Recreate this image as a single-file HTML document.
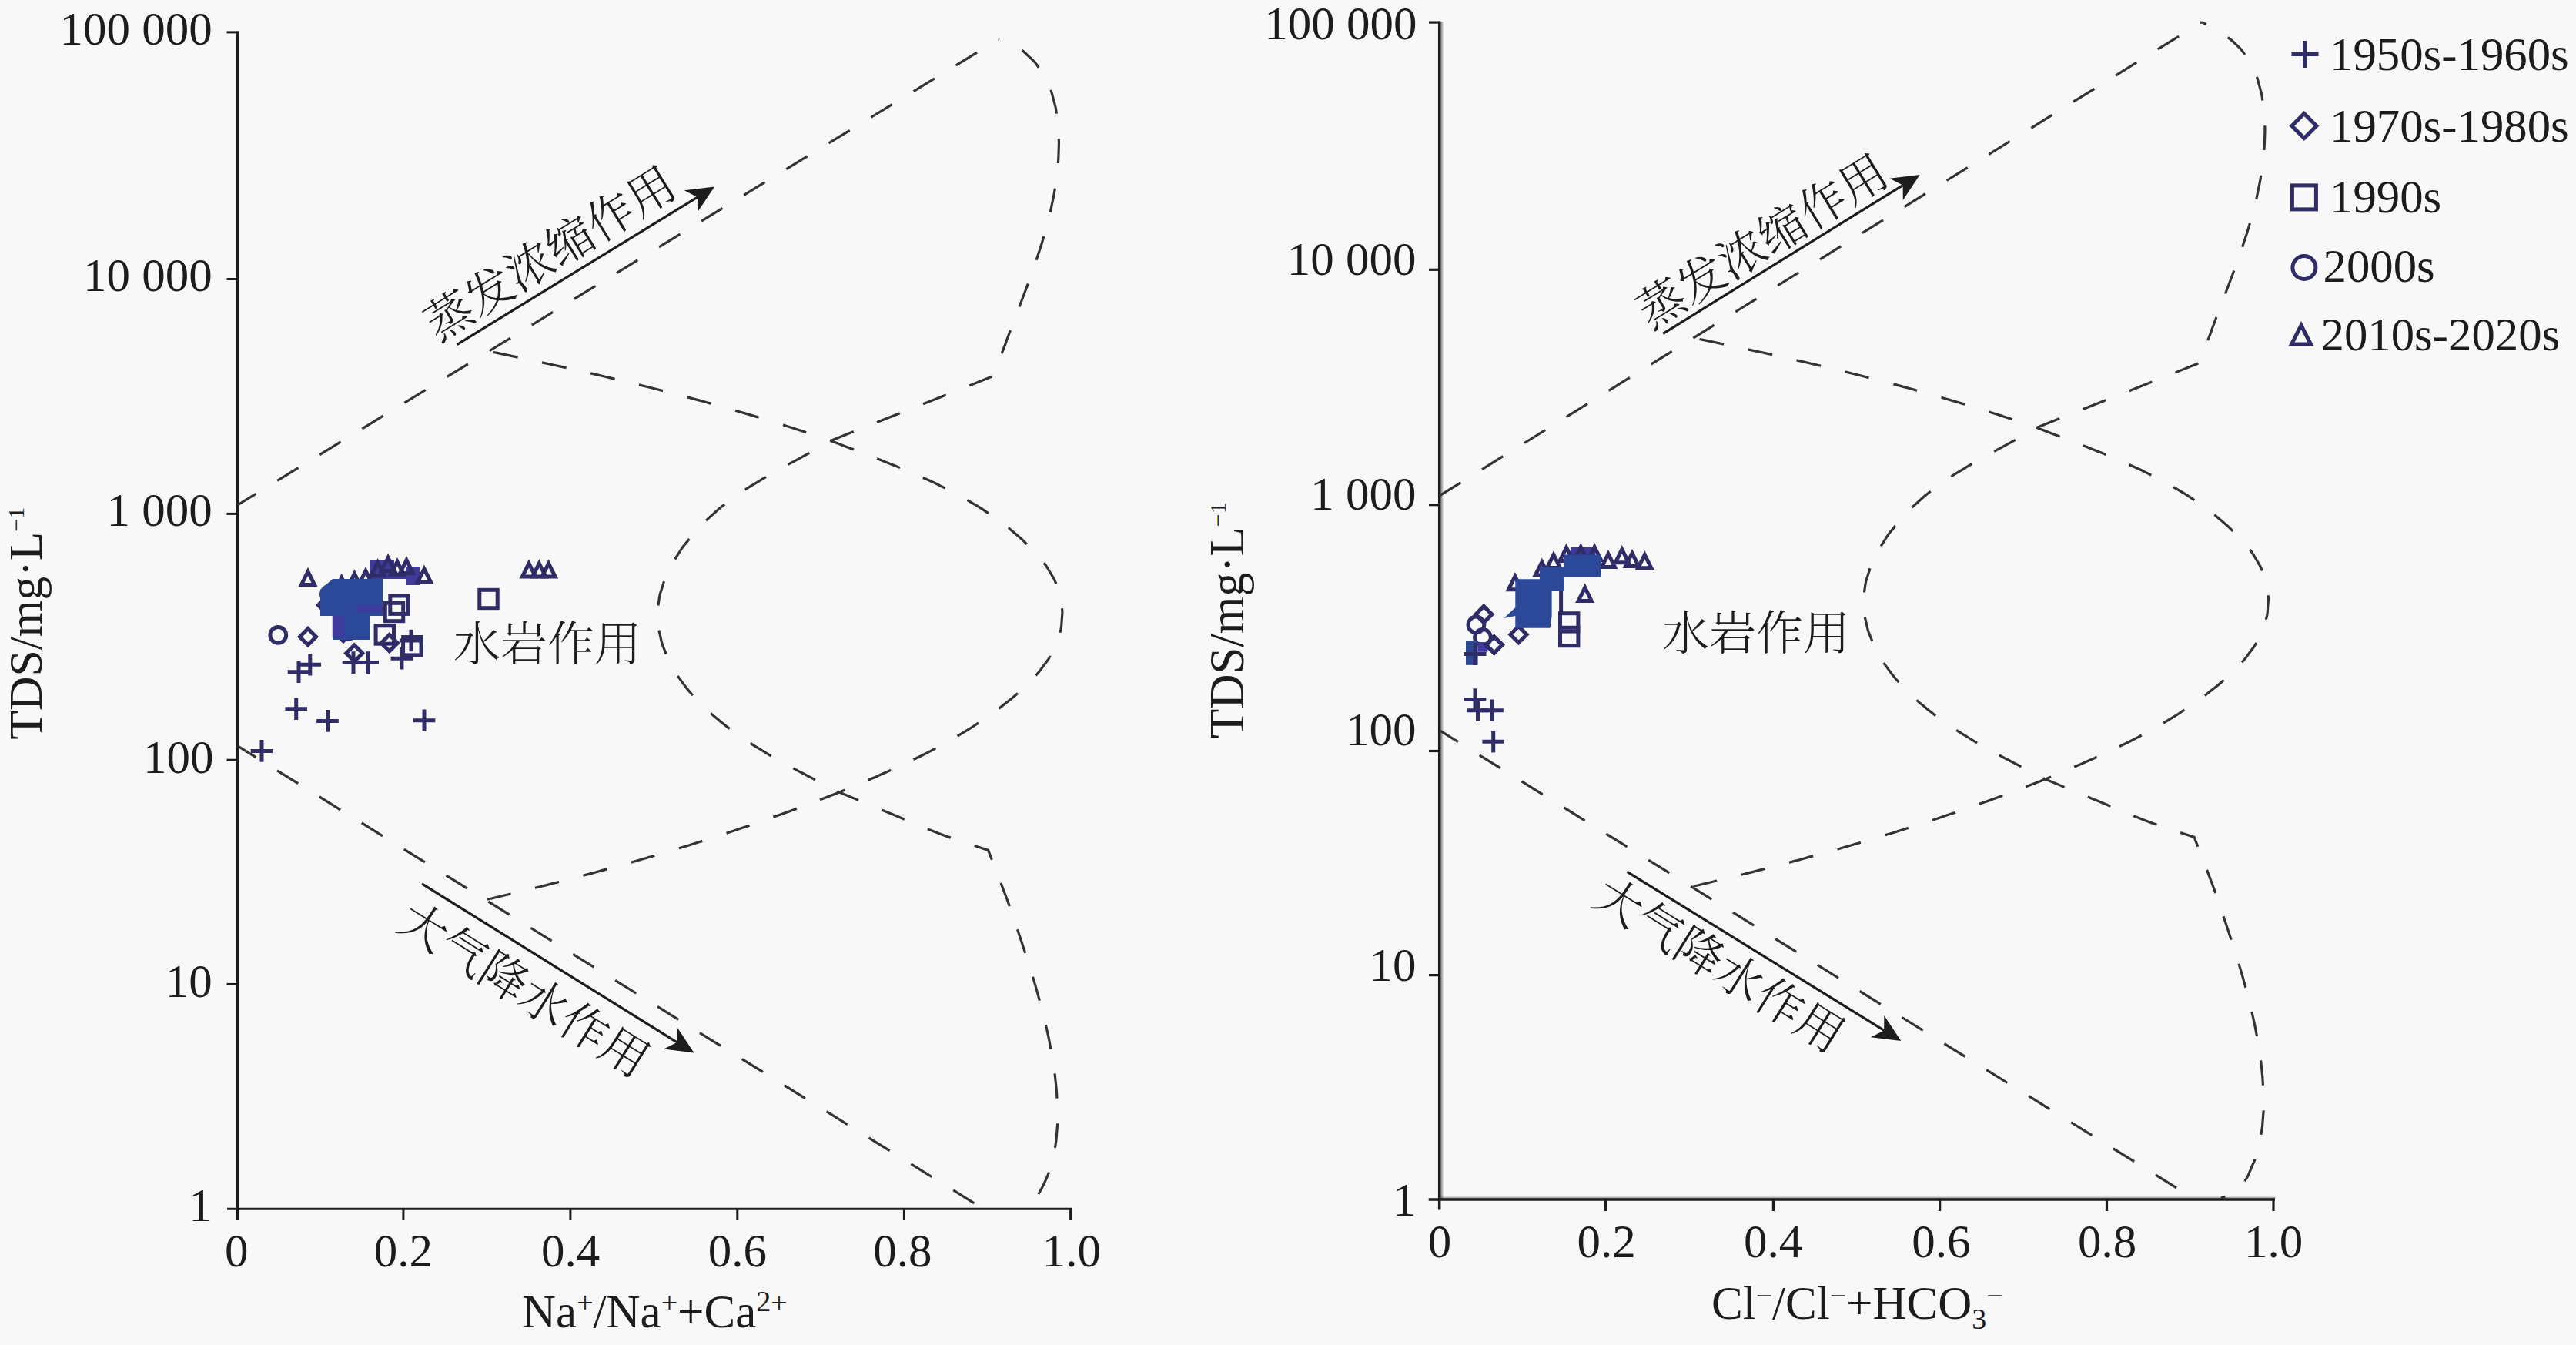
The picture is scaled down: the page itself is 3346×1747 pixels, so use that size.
<!DOCTYPE html>
<html lang="zh"><head><meta charset="utf-8"><title>Gibbs</title>
<style>
html,body{margin:0;padding:0;background:#f8f8f8;}
svg{display:block;}
text{font-family:"Liberation Serif","Noto Serif CJK SC",serif;fill:#1c1c1c;}
.cj{font-family:"Liberation Serif","Noto Serif CJK SC",serif;font-weight:300;}
.ds path{fill:none;stroke:#333333;stroke-width:3.2;stroke-dasharray:32 32.6;}
.mk *{fill:none;stroke:#2f2c68;stroke-width:5;}
.ax{stroke:#1c1c1c;fill:none;}
</style></head><body>
<svg width="3346" height="1747" viewBox="0 0 3346 1747">
<rect width="3346" height="1747" fill="#f8f8f8"/>
<g class="ax" stroke-width="3">
<path d="M308.5,40.4V1584"/>
<path d="M295,1570.3H1392"/>
<path d="M294.5,41.9H308.5"/>
<path d="M294.5,362.5H308.5"/>
<path d="M294.5,667.4H308.5"/>
<path d="M294.5,987.2H308.5"/>
<path d="M294.5,1278.4H308.5"/>
<path d="M523.9,1570.3V1584"/>
<path d="M740.9,1570.3V1584"/>
<path d="M957.8,1570.3V1584"/>
<path d="M1174.4,1570.3V1584"/>
<path d="M1390.6,1570.3V1584"/>
</g>
<text x="275.8" y="57.6" font-size="61" text-anchor="end">100 000</text>
<text x="275.8" y="377.8" font-size="61" text-anchor="end">10 000</text>
<text x="275.8" y="682.7" font-size="61" text-anchor="end">1 000</text>
<text x="277.5" y="1003.9" font-size="61" text-anchor="end">100</text>
<text x="275.8" y="1294.8" font-size="61" text-anchor="end">10</text>
<text x="275.8" y="1585.5" font-size="61" text-anchor="end">1</text>
<text x="307.3" y="1645" font-size="61" text-anchor="middle">0</text>
<text x="523.8" y="1645" font-size="61" text-anchor="middle">0.2</text>
<text x="741.0" y="1645" font-size="61" text-anchor="middle">0.4</text>
<text x="957.8" y="1645" font-size="61" text-anchor="middle">0.6</text>
<text x="1172.4" y="1645" font-size="61" text-anchor="middle">0.8</text>
<text x="1391.9" y="1645" font-size="61" text-anchor="middle">1.0</text>
<text x="678" y="1724" font-size="61">Na<tspan font-size="38" dy="-19">+</tspan><tspan dy="19">/Na</tspan><tspan font-size="38" dy="-19">+</tspan><tspan dy="19">+Ca</tspan><tspan font-size="38" dy="-21">2</tspan><tspan font-size="38" dy="2">+</tspan></text>
<text transform="translate(53.8,960.5) rotate(-90)" font-size="61.5">TDS/mg·L<tspan font-size="30" dy="-23">−1</tspan></text>
<g class="ds"><path d="M308.5,656.0 L1297.0,51.0" stroke-dashoffset="4"/>
<path d="M1079.0,572.4 L1289.0,489.0 C1293.3,478.3 1295.1,474.6 1302.0,457.0 C1308.9,439.4 1304.5,450.1 1309.7,436.2 C1314.9,422.3 1312.3,429.3 1317.6,415.3 C1322.9,401.3 1320.3,408.3 1325.6,394.3 C1330.9,380.2 1328.3,387.3 1333.6,373.1 C1338.8,359.0 1336.3,366.1 1341.3,351.8 C1346.3,337.6 1343.9,344.7 1348.6,330.3 C1353.3,316.0 1351.1,323.2 1355.4,308.7 C1359.6,294.2 1357.7,301.5 1361.4,286.9 C1365.1,272.2 1363.5,279.6 1366.5,264.8 C1369.6,250.1 1368.3,257.5 1370.7,242.6 C1373.0,227.7 1372.1,235.2 1373.5,220.1 C1375.0,205.0 1374.6,212.6 1375.1,197.4 C1375.5,182.2 1375.7,189.7 1375.0,174.5 C1374.3,159.3 1375.1,166.7 1373.0,151.8 C1370.8,136.9 1372.5,144.1 1368.6,129.9 C1364.7,115.7 1367.3,122.4 1361.4,109.2 C1355.6,96.1 1359.1,102.2 1351.0,90.4 C1342.9,78.6 1347.7,83.9 1337.0,73.9 C1326.4,64.0 1332.5,68.2 1319.1,60.6 C1305.8,52.9 1304.4,54.2 1297.0,51.0"/>
<path d="M1079.0,572.4 C1085.9,575.1 1085.9,575.1 1099.7,580.5 C1113.6,585.8 1106.6,583.1 1120.5,588.5 C1134.4,593.8 1127.5,591.1 1141.4,596.6 C1155.3,602.0 1148.4,599.2 1162.2,604.8 C1176.0,610.5 1169.2,607.6 1182.9,613.4 C1196.6,619.3 1189.8,616.3 1203.4,622.5 C1216.9,628.7 1210.2,625.4 1223.6,632.1 C1236.9,638.7 1230.3,635.2 1243.5,642.3 C1256.6,649.4 1250.1,645.7 1262.9,653.4 C1275.7,661.1 1269.4,657.0 1281.9,665.3 C1294.3,673.7 1288.2,669.3 1300.3,678.4 C1312.3,687.4 1306.4,682.7 1318.0,692.5 C1329.6,702.4 1324.1,697.2 1335.0,708.0 C1345.9,718.7 1341.0,713.1 1350.6,724.7 C1360.2,736.4 1356.2,730.3 1363.7,743.0 C1371.3,755.6 1368.4,749.1 1373.4,762.7 C1378.3,776.3 1376.6,769.5 1378.6,783.7 C1380.5,798.0 1380.3,791.1 1379.2,805.3 C1378.2,819.5 1379.4,812.7 1375.4,826.4 C1371.4,840.0 1373.8,833.4 1367.2,846.2 C1360.6,859.0 1364.2,852.8 1355.5,864.8 C1346.7,876.8 1351.3,871.0 1340.9,882.1 C1330.5,893.3 1335.8,887.9 1324.3,898.3 C1312.7,908.7 1318.5,903.7 1306.3,913.3 C1294.2,923.0 1300.2,918.3 1287.8,927.3 C1275.4,936.2 1281.6,931.9 1269.1,940.2 C1256.6,948.5 1262.9,944.4 1250.2,952.2 C1237.6,959.9 1243.9,956.1 1231.2,963.3 C1218.4,970.6 1224.8,967.0 1211.9,973.8 C1198.9,980.7 1205.5,977.3 1192.3,983.8 C1179.2,990.3 1185.8,987.1 1172.6,993.3 C1159.3,999.5 1166.0,996.4 1152.5,1002.4 C1139.0,1008.4 1145.8,1005.4 1132.1,1011.3 C1118.3,1017.3 1125.3,1014.3 1111.3,1020.2 C1097.4,1026.1 1097.2,1026.1 1090.2,1029.0"/>
<path d="M1090.2,1029.0 C1104.4,1034.9 1135.2,1047.8 1161.3,1058.6 C1187.4,1069.4 1196.2,1073.8 1220.7,1083.0 C1245.2,1092.2 1271.0,1100.1 1283.6,1104.4 C1291.7,1125.6 1297.5,1140.0 1308.0,1168.0 C1318.5,1196.0 1310.3,1174.8 1315.1,1188.5 C1319.8,1202.3 1317.4,1195.4 1322.2,1209.3 C1326.9,1223.3 1324.6,1216.3 1329.2,1230.3 C1333.8,1244.4 1331.6,1237.3 1336.1,1251.5 C1340.6,1265.7 1338.4,1258.6 1342.7,1272.9 C1347.0,1287.2 1344.9,1280.0 1348.9,1294.4 C1352.9,1308.9 1351.0,1301.6 1354.7,1316.1 C1358.3,1330.6 1356.6,1323.4 1359.9,1338.0 C1363.1,1352.5 1361.7,1345.2 1364.4,1359.9 C1367.2,1374.6 1366.0,1367.2 1368.2,1381.9 C1370.4,1396.7 1369.5,1389.3 1371.1,1404.1 C1372.6,1418.8 1372.1,1411.5 1372.9,1426.3 C1373.8,1441.1 1373.7,1433.7 1373.6,1448.4 C1373.6,1463.2 1374.0,1455.9 1372.8,1470.4 C1371.6,1485.0 1372.7,1477.8 1370.1,1492.1 C1367.6,1506.4 1369.3,1499.4 1365.2,1513.3 C1361.1,1527.2 1363.7,1520.4 1357.8,1533.8 C1351.8,1547.2 1350.9,1546.9 1347.4,1553.5" stroke-dashoffset="5"/>
<path d="M1090.2,1029.0 C1083.1,1031.8 1083.2,1031.8 1069.0,1037.3 C1054.9,1042.8 1062.0,1040.1 1047.8,1045.5 C1033.6,1050.8 1040.7,1048.2 1026.4,1053.4 C1012.2,1058.6 1019.3,1056.0 1005.0,1061.1 C990.7,1066.2 997.9,1063.7 983.5,1068.7 C969.2,1073.7 976.4,1071.2 962.0,1076.1 C947.6,1080.9 954.8,1078.5 940.4,1083.3 C925.9,1088.0 933.2,1085.7 918.7,1090.3 C904.2,1094.9 911.5,1092.6 897.0,1097.2 C882.5,1101.7 889.7,1099.4 875.2,1103.8 C860.6,1108.3 867.9,1106.1 853.3,1110.4 C838.8,1114.7 846.1,1112.6 831.5,1116.8 C816.9,1121.0 824.2,1118.9 809.5,1123.0 C794.9,1127.1 802.2,1125.1 787.6,1129.1 C772.9,1133.1 780.2,1131.2 765.6,1135.1 C750.9,1139.0 758.2,1137.1 743.5,1140.9 C728.8,1144.8 736.2,1142.9 721.5,1146.6 C706.8,1150.4 714.1,1148.5 699.4,1152.2 C684.6,1155.9 692.0,1154.1 677.3,1157.7 C662.5,1161.3 669.9,1159.5 655.1,1163.0 C640.4,1166.6 640.4,1166.5 633.0,1168.3" stroke-dashoffset="5"/>
<path d="M1079.0,572.4 C1072.5,576.2 1072.6,576.3 1059.6,583.7 C1046.6,591.0 1053.1,587.3 1039.9,594.6 C1026.8,601.8 1033.3,598.1 1020.1,605.4 C1007.0,612.6 1013.5,608.9 1000.4,616.4 C987.4,623.9 993.8,620.0 981.0,627.9 C968.1,635.8 974.4,631.6 961.9,640.2 C949.4,648.8 955.5,644.2 943.4,653.6 C931.3,663.0 937.1,658.0 925.6,668.4 C914.1,678.7 919.5,673.4 908.8,684.7 C898.0,696.0 903.0,690.2 893.4,702.4 C883.7,714.6 888.1,708.4 879.9,721.3 C871.6,734.2 875.2,727.6 868.7,741.1 C862.3,754.6 864.9,747.8 860.5,761.7 C856.1,775.5 857.5,768.6 855.5,782.7 C853.5,796.9 853.8,789.9 854.5,804.1 C855.1,818.4 854.2,811.4 857.5,825.6 C860.7,839.8 858.6,832.9 864.1,846.7 C869.7,860.6 866.5,853.9 874.0,867.2 C881.5,880.5 877.5,874.1 886.5,886.6 C895.6,899.0 890.9,893.0 901.2,904.6 C911.5,916.1 906.3,910.6 917.5,921.2 C928.8,931.8 923.1,926.7 935.0,936.4 C946.9,946.2 940.9,941.5 953.2,950.5 C965.4,959.5 959.2,955.1 971.8,963.4 C984.5,971.8 978.1,967.7 991.0,975.5 C1003.9,983.3 997.4,979.5 1010.5,986.9 C1023.6,994.3 1017.0,990.6 1030.2,997.8 C1043.5,1004.9 1036.8,1001.3 1050.2,1008.3 C1063.5,1015.2 1056.8,1011.7 1070.2,1018.6 C1083.5,1025.5 1083.5,1025.5 1090.2,1029.0" stroke-dashoffset="33"/>
<path d="M641.0,457.5 C648.4,459.0 648.4,459.0 663.2,462.1 C677.9,465.2 670.6,463.6 685.3,466.8 C700.1,470.0 692.7,468.4 707.5,471.6 C722.2,474.8 714.9,473.2 729.6,476.4 C744.3,479.7 737.0,478.0 751.7,481.4 C766.4,484.7 759.1,483.0 773.8,486.4 C788.5,489.8 781.2,488.1 795.9,491.6 C810.6,495.1 803.2,493.3 817.9,496.9 C832.6,500.5 825.2,498.7 839.9,502.3 C854.6,506.0 847.2,504.1 861.9,507.9 C876.5,511.6 869.2,509.7 883.8,513.5 C898.4,517.4 891.1,515.4 905.7,519.4 C920.3,523.3 913.0,521.3 927.5,525.4 C942.1,529.4 934.8,527.4 949.3,531.5 C963.8,535.7 956.6,533.6 971.1,537.9 C985.6,542.2 978.3,540.0 992.8,544.4 C1007.2,548.8 1000.0,546.6 1014.4,551.1 C1028.8,555.6 1021.6,553.3 1036.0,558.0 C1050.4,562.7 1043.2,560.3 1057.5,565.1 C1071.9,569.9 1071.8,570.0 1079.0,572.4"/>
<path d="M309.4,969.4 L1277.0,1570.0" stroke-dashoffset="5"/></g>
<path d="M593.5,447.7L905.9,256.1" stroke="#1c1c1c" stroke-width="3.2" fill="none"/><path d="M928.1,242.5L906.0,275.4L905.9,256.1L888.8,247.3Z" fill="#1c1c1c"/>
<path d="M548.0,1147.9L879.4,1353.9" stroke="#1c1c1c" stroke-width="3.2" fill="none"/><path d="M901.5,1367.6L862.2,1362.6L879.4,1353.9L879.6,1334.6Z" fill="#1c1c1c"/>
<text class="cj" font-size="61.5" text-anchor="middle" transform="translate(726,348) rotate(-31.7)">蒸发浓缩作用</text>
<text class="cj" font-size="61.5" text-anchor="middle" transform="translate(669.4,1303.8) rotate(32)">大气降水作用</text>
<text class="cj" font-size="61" x="589" y="858">水岩作用</text>
<path d="M480,728H512V745H527V736H545V760H527V752H497V800H432V790H416V766H432V752H480Z" fill="#3f3a9c"/>
<g class="mk"><path d="M325.7,975.4H354.3M340.0,961.1V989.7" stroke-width="5.0"/><path d="M370.4,920.8H399.0M384.7,906.5V935.1" stroke-width="5.0"/><path d="M411.2,936.4H439.8M425.5,922.1V950.7" stroke-width="5.0"/><path d="M536.7,935.7H565.3M551.0,921.4V950.0" stroke-width="5.0"/><path d="M373.7,872.7H402.3M388.0,858.4V887.0" stroke-width="5.0"/><path d="M388.5,863.3H417.1M402.8,849.0V877.6" stroke-width="5.0"/><path d="M444.7,860.6H473.3M459.0,846.3V874.9" stroke-width="5.0"/><path d="M463.4,860.6H492.0M477.7,846.3V874.9" stroke-width="5.0"/><path d="M507.6,855.3H536.2M521.9,841.0V869.6" stroke-width="5.0"/><path d="M519.7,832.0H548.3M534.0,817.7V846.3" stroke-width="5.0"/><path d="M389.4,827.2L400.0,816.6L410.6,827.2L400.0,837.8Z"/><path d="M495.2,835.2L505.8,824.6L516.4,835.2L505.8,845.8Z"/><path d="M449.7,848.6L460.3,838.0L470.9,848.6L460.3,859.2Z"/><path d="M413.4,786.0L424.0,775.4L434.6,786.0L424.0,796.6Z"/><path d="M435.4,822.0L446.0,811.4L456.6,822.0L446.0,832.6Z"/><circle cx="361.3" cy="824.9" r="10.4"/><circle cx="428.0" cy="772.0" r="10.4"/><circle cx="452.0" cy="820.0" r="10.4"/><rect x="622.8" y="766.3" width="23.4" height="23.4"/><rect x="506.8" y="774.0" width="23.4" height="23.4"/><rect x="500.3" y="783.3" width="23.4" height="23.4"/><rect x="488.1" y="812.8" width="23.4" height="23.4"/><rect x="523.6" y="827.5" width="23.4" height="23.4"/><rect x="434.3" y="802.3" width="23.4" height="23.4"/><path d="M391.5,759.5L400.0,742.4L408.5,759.5Z"/><path d="M678.5,748.9L687.0,731.8L695.5,748.9Z"/><path d="M691.8,748.9L700.3,731.8L708.8,748.9Z"/><path d="M704.1,748.9L712.6,731.8L721.1,748.9Z"/><path d="M435.2,767.5L443.7,750.4L452.2,767.5Z"/><path d="M451.9,762.3L460.4,745.2L468.9,762.3Z"/><path d="M466.5,758.6L475.0,741.5L483.5,758.6Z"/><path d="M482.1,747.7L490.6,730.6L499.1,747.7Z"/><path d="M495.6,741.5L504.1,724.4L512.6,741.5Z"/><path d="M507.5,746.6L516.0,729.5L524.5,746.6Z"/><path d="M519.5,744.6L528.0,727.5L536.5,744.6Z"/><path d="M542.5,756.1L551.0,739.0L559.5,756.1Z"/></g>
<path d="M416,766L432,752H497V800H480V831H432V800H416Z" fill="#2b4899"/>
<path d="M432,800H447V828H432ZM463,786H497V795H463Z" fill="#3f3a9c"/>
<defs><linearGradient id="shx" x1="0" x2="1" y1="0" y2="0"><stop offset="0" stop-color="#222" stop-opacity="0.6"/><stop offset="1" stop-color="#222" stop-opacity="0"/></linearGradient><linearGradient id="shy" x1="0" x2="0" y1="1" y2="0"><stop offset="0" stop-color="#222" stop-opacity="0.6"/><stop offset="1" stop-color="#222" stop-opacity="0"/></linearGradient></defs>
<rect x="1871.3" y="28" width="4.2" height="1530.1" fill="url(#shx)"/>
<rect x="1871.3" y="1553.9" width="1084.3" height="2.6" fill="url(#shy)"/>
<g class="ax" stroke-width="3.5">
<path d="M1869.7,27.4V1571.5"/>
<path d="M1855.7,1558.1H2955"/>
</g><g class="ax" stroke-width="3.2">
<path d="M1856,29.1H1869.7"/>
<path d="M1856,350.3H1869.7"/>
<path d="M1856,655.7H1869.7"/>
<path d="M1856,975.5H1869.7"/>
<path d="M1856,1266.6H1869.7"/>
<path d="M2085.6,1558.1V1573"/>
<path d="M2303.4,1558.1V1573"/>
<path d="M2519.6,1558.1V1573"/>
<path d="M2736.5,1558.1V1573"/>
<path d="M2953.0,1558.1V1573"/>
</g>
<text x="1840.5" y="50.5" font-size="61" text-anchor="end">100 000</text>
<text x="1839.4" y="356.8" font-size="61" text-anchor="end">10 000</text>
<text x="1839.4" y="662.2" font-size="61" text-anchor="end">1 000</text>
<text x="1839.4" y="967.5" font-size="61" text-anchor="end">100</text>
<text x="1839.4" y="1274.3" font-size="61" text-anchor="end">10</text>
<text x="1839.4" y="1579.2" font-size="61" text-anchor="end">1</text>
<text x="1870.1" y="1632.5" font-size="61" text-anchor="middle">0</text>
<text x="2086.7" y="1632.5" font-size="61" text-anchor="middle">0.2</text>
<text x="2303.0" y="1632.5" font-size="61" text-anchor="middle">0.4</text>
<text x="2521.4" y="1632.5" font-size="61" text-anchor="middle">0.6</text>
<text x="2737.0" y="1632.5" font-size="61" text-anchor="middle">0.8</text>
<text x="2953.0" y="1632.5" font-size="61" text-anchor="middle">1.0</text>
<text x="2223" y="1713.3" font-size="61">Cl<tspan font-size="38" dy="-17.5">−</tspan><tspan dy="17.5">/Cl</tspan><tspan font-size="38" dy="-17.5">−</tspan><tspan dy="17.5">+HCO</tspan><tspan font-size="38" dy="13">3</tspan><tspan font-size="38" dy="-30.5">−</tspan></text>
<text transform="translate(1614.5,959) rotate(-90)" font-size="62.6">TDS/mg·L<tspan font-size="30" dy="-23">−1</tspan></text>
<g class="ds"><path d="M1870.2,643.7 L2860.0,28.5" stroke-dashoffset="0"/>
<path d="M2645.5,555.4 L2855.5,472.0 C2859.8,461.3 2861.6,457.6 2868.5,440.0 C2875.4,422.4 2871.0,433.1 2876.2,419.2 C2881.4,405.3 2878.8,412.3 2884.1,398.3 C2889.4,384.3 2886.8,391.3 2892.1,377.3 C2897.4,363.2 2894.8,370.3 2900.1,356.1 C2905.3,342.0 2902.8,349.1 2907.8,334.8 C2912.8,320.6 2910.4,327.7 2915.1,313.3 C2919.8,299.0 2917.6,306.2 2921.9,291.7 C2926.1,277.2 2924.2,284.5 2927.9,269.9 C2931.6,255.2 2930.0,262.6 2933.0,247.8 C2936.1,233.1 2934.8,240.5 2937.2,225.6 C2939.5,210.7 2938.6,218.2 2940.0,203.1 C2941.5,188.0 2941.1,195.6 2941.6,180.4 C2942.0,165.2 2942.2,172.7 2941.5,157.5 C2940.8,142.3 2941.6,149.7 2939.5,134.8 C2937.3,119.9 2939.0,127.1 2935.1,112.9 C2931.2,98.7 2933.8,105.4 2927.9,92.2 C2922.1,79.1 2925.6,85.2 2917.5,73.4 C2909.4,61.6 2914.2,66.9 2903.5,56.9 C2892.9,47.0 2900.1,53.1 2885.6,43.6 C2871.1,34.1 2868.5,33.5 2860.0,28.5"/>
<path d="M2645.5,555.4 C2652.4,558.1 2652.4,558.1 2666.2,563.5 C2680.1,568.8 2673.1,566.1 2687.0,571.5 C2700.9,576.8 2694.0,574.1 2707.9,579.6 C2721.8,585.0 2714.9,582.2 2728.7,587.8 C2742.5,593.5 2735.7,590.6 2749.4,596.4 C2763.1,602.3 2756.3,599.3 2769.9,605.5 C2783.4,611.7 2776.7,608.4 2790.1,615.1 C2803.4,621.7 2796.8,618.2 2810.0,625.3 C2823.1,632.4 2816.6,628.7 2829.4,636.4 C2842.2,644.1 2835.9,640.0 2848.4,648.3 C2860.8,656.7 2854.7,652.3 2866.8,661.4 C2878.8,670.4 2872.9,665.7 2884.5,675.5 C2896.1,685.4 2890.6,680.2 2901.5,691.0 C2912.4,701.7 2907.5,696.1 2917.1,707.7 C2926.7,719.4 2922.7,713.3 2930.2,726.0 C2937.8,738.6 2934.9,732.1 2939.9,745.7 C2944.8,759.3 2943.1,752.5 2945.1,766.7 C2947.0,781.0 2946.8,774.1 2945.7,788.3 C2944.7,802.5 2945.9,795.7 2941.9,809.4 C2937.9,823.0 2940.3,816.4 2933.7,829.2 C2927.1,842.0 2930.7,835.8 2922.0,847.8 C2913.2,859.8 2917.8,854.0 2907.4,865.1 C2897.0,876.3 2902.3,870.9 2890.8,881.3 C2879.2,891.7 2885.0,886.7 2872.8,896.3 C2860.7,906.0 2866.7,901.3 2854.3,910.3 C2841.9,919.2 2848.1,914.9 2835.6,923.2 C2823.1,931.5 2829.4,927.4 2816.7,935.2 C2804.1,942.9 2810.4,939.1 2797.7,946.3 C2784.9,953.6 2791.3,950.0 2778.4,956.8 C2765.4,963.7 2772.0,960.3 2758.8,966.8 C2745.7,973.3 2752.3,970.1 2739.1,976.3 C2725.8,982.5 2732.5,979.4 2719.0,985.4 C2705.5,991.4 2712.3,988.4 2698.6,994.3 C2684.8,1000.3 2691.8,997.3 2677.8,1003.2 C2663.9,1009.1 2663.7,1009.1 2656.7,1012.0"/>
<path d="M2656.7,1012.0 C2670.9,1017.9 2701.7,1030.8 2727.8,1041.6 C2753.9,1052.4 2762.7,1056.8 2787.2,1066.0 C2811.7,1075.2 2837.5,1083.1 2850.1,1087.4 C2858.2,1108.6 2864.0,1123.0 2874.5,1151.0 C2885.0,1179.0 2876.8,1157.8 2881.6,1171.5 C2886.3,1185.3 2883.9,1178.4 2888.7,1192.3 C2893.4,1206.3 2891.1,1199.3 2895.7,1213.3 C2900.3,1227.4 2898.1,1220.3 2902.6,1234.5 C2907.1,1248.7 2904.9,1241.6 2909.2,1255.9 C2913.5,1270.2 2911.4,1263.0 2915.4,1277.4 C2919.4,1291.9 2917.5,1284.6 2921.2,1299.1 C2924.8,1313.6 2923.1,1306.4 2926.4,1321.0 C2929.6,1335.5 2928.2,1328.2 2930.9,1342.9 C2933.7,1357.6 2932.5,1350.2 2934.7,1364.9 C2936.9,1379.7 2936.0,1372.3 2937.6,1387.1 C2939.1,1401.8 2938.6,1394.5 2939.4,1409.3 C2940.3,1424.1 2940.2,1416.7 2940.1,1431.4 C2940.1,1446.2 2940.5,1438.9 2939.3,1453.4 C2938.1,1468.0 2939.2,1460.8 2936.6,1475.1 C2934.1,1489.4 2935.8,1482.4 2931.7,1496.3 C2927.6,1510.2 2930.2,1503.4 2924.3,1516.8 C2918.3,1530.2 2922.0,1525.8 2913.9,1536.5 C2905.8,1547.2 2909.6,1542.5 2900.0,1549.0 C2890.4,1555.5 2890.0,1553.7 2885.0,1556.0" stroke-dashoffset="5"/>
<path d="M2656.7,1012.0 C2649.6,1014.8 2649.7,1014.8 2635.5,1020.3 C2621.4,1025.8 2628.5,1023.1 2614.3,1028.5 C2600.1,1033.8 2607.2,1031.2 2592.9,1036.4 C2578.7,1041.6 2585.8,1039.0 2571.5,1044.1 C2557.2,1049.2 2564.4,1046.7 2550.0,1051.7 C2535.7,1056.7 2542.9,1054.2 2528.5,1059.1 C2514.1,1063.9 2521.3,1061.5 2506.9,1066.3 C2492.4,1071.0 2499.7,1068.7 2485.2,1073.3 C2470.7,1077.9 2478.0,1075.6 2463.5,1080.2 C2449.0,1084.7 2456.2,1082.4 2441.7,1086.8 C2427.1,1091.3 2434.4,1089.1 2419.8,1093.4 C2405.3,1097.7 2412.6,1095.6 2398.0,1099.8 C2383.4,1104.0 2390.7,1101.9 2376.0,1106.0 C2361.4,1110.1 2368.7,1108.1 2354.1,1112.1 C2339.4,1116.1 2346.7,1114.2 2332.1,1118.1 C2317.4,1122.0 2324.7,1120.1 2310.0,1123.9 C2295.3,1127.8 2302.7,1125.9 2288.0,1129.6 C2273.3,1133.4 2280.6,1131.5 2265.9,1135.2 C2251.1,1138.9 2258.5,1137.1 2243.8,1140.7 C2229.0,1144.3 2236.4,1142.5 2221.6,1146.0 C2206.9,1149.6 2206.9,1149.5 2199.5,1151.3" stroke-dashoffset="5"/>
<path d="M2645.5,555.4 C2639.0,559.2 2639.1,559.3 2626.1,566.7 C2613.1,574.0 2619.6,570.3 2606.4,577.6 C2593.3,584.8 2599.8,581.1 2586.6,588.4 C2573.5,595.6 2580.0,591.9 2566.9,599.4 C2553.9,606.9 2560.3,603.0 2547.5,610.9 C2534.6,618.8 2540.9,614.6 2528.4,623.2 C2515.9,631.8 2522.0,627.2 2509.9,636.6 C2497.8,646.0 2503.6,641.0 2492.1,651.4 C2480.6,661.7 2486.0,656.4 2475.3,667.7 C2464.5,679.0 2469.5,673.2 2459.9,685.4 C2450.2,697.6 2454.6,691.4 2446.4,704.3 C2438.1,717.2 2441.7,710.6 2435.2,724.1 C2428.8,737.6 2431.4,730.8 2427.0,744.7 C2422.6,758.5 2424.0,751.6 2422.0,765.7 C2420.0,779.9 2420.3,772.9 2421.0,787.1 C2421.6,801.4 2420.7,794.4 2424.0,808.6 C2427.2,822.8 2425.1,815.9 2430.6,829.7 C2436.2,843.6 2433.0,836.9 2440.5,850.2 C2448.0,863.5 2444.0,857.1 2453.0,869.6 C2462.1,882.0 2457.4,876.0 2467.7,887.6 C2478.0,899.1 2472.8,893.6 2484.0,904.2 C2495.3,914.8 2489.6,909.7 2501.5,919.4 C2513.4,929.2 2507.4,924.5 2519.7,933.5 C2531.9,942.5 2525.7,938.1 2538.3,946.4 C2551.0,954.8 2544.6,950.7 2557.5,958.5 C2570.4,966.3 2563.9,962.5 2577.0,969.9 C2590.1,977.3 2583.5,973.6 2596.7,980.8 C2610.0,987.9 2603.3,984.3 2616.7,991.3 C2630.0,998.2 2623.3,994.7 2636.7,1001.6 C2650.0,1008.5 2650.0,1008.5 2656.7,1012.0" stroke-dashoffset="33"/>
<path d="M2207.5,440.5 C2214.9,442.0 2214.9,442.0 2229.7,445.1 C2244.4,448.2 2237.1,446.6 2251.8,449.8 C2266.6,453.0 2259.2,451.4 2274.0,454.6 C2288.7,457.8 2281.4,456.2 2296.1,459.4 C2310.8,462.7 2303.5,461.0 2318.2,464.4 C2332.9,467.7 2325.6,466.0 2340.3,469.4 C2355.0,472.8 2347.7,471.1 2362.4,474.6 C2377.1,478.1 2369.7,476.3 2384.4,479.9 C2399.1,483.5 2391.7,481.7 2406.4,485.3 C2421.1,489.0 2413.7,487.1 2428.4,490.9 C2443.0,494.6 2435.7,492.7 2450.3,496.5 C2464.9,500.4 2457.6,498.4 2472.2,502.4 C2486.8,506.3 2479.5,504.3 2494.0,508.4 C2508.6,512.4 2501.3,510.4 2515.8,514.5 C2530.3,518.7 2523.1,516.6 2537.6,520.9 C2552.1,525.2 2544.8,523.0 2559.3,527.4 C2573.7,531.8 2566.5,529.6 2580.9,534.1 C2595.3,538.6 2588.1,536.3 2602.5,541.0 C2616.9,545.7 2609.7,543.3 2624.0,548.1 C2638.4,552.9 2638.3,553.0 2645.5,555.4"/>
<path d="M1871.0,949.4 L2843.5,1553.0" stroke-dashoffset="5"/></g>
<path d="M2160.2,433.3L2471.6,240.6" stroke="#1c1c1c" stroke-width="3.2" fill="none"/><path d="M2493.7,226.9L2471.8,259.9L2471.6,240.6L2454.4,231.8Z" fill="#1c1c1c"/>
<path d="M2113.5,1132.3L2447.2,1338.4" stroke="#1c1c1c" stroke-width="3.2" fill="none"/><path d="M2469.3,1352.1L2430.0,1347.2L2447.2,1338.4L2447.3,1319.1Z" fill="#1c1c1c"/>
<text class="cj" font-size="61.5" text-anchor="middle" transform="translate(2300.5,332.4) rotate(-31.7)">蒸发浓缩作用</text>
<text class="cj" font-size="61.5" text-anchor="middle" transform="translate(2221.9,1271.8) rotate(32)">大气降水作用</text>
<text class="cj" font-size="61" x="2159" y="843.5">水岩作用</text>
<path d="M2040,711H2072V722H2040Z" fill="#3f3a9c"/>
<g class="mk"><path d="M1901.7,849.6H1930.3M1916.0,835.3V863.9" stroke-width="5.0"/><path d="M1901.7,908.5H1930.3M1916.0,894.2V922.8" stroke-width="5.0"/><path d="M1905.2,922.7H1933.8M1919.5,908.4V937.0" stroke-width="5.0"/><path d="M1924.2,922.7H1952.8M1938.5,908.4V937.0" stroke-width="5.0"/><path d="M1925.4,963.2H1954.0M1939.7,948.9V977.5" stroke-width="5.0"/><path d="M1916.7,798.0L1927.3,787.4L1937.9,798.0L1927.3,808.6Z"/><path d="M1961.9,824.2L1972.5,813.6L1983.1,824.2L1972.5,834.8Z"/><path d="M1930.1,837.6L1940.7,827.0L1951.3,837.6L1940.7,848.2Z"/><circle cx="1917.4" cy="811.5" r="10.4"/><circle cx="1926.0" cy="828.0" r="10.4"/><rect x="2026.5" y="796.7" width="23.4" height="23.4"/><rect x="2026.5" y="815.3" width="23.4" height="23.4"/><path d="M1959.4,765.7L1967.9,748.6L1976.4,765.7Z"/><path d="M1994.3,747.1L2002.8,730.0L2011.3,747.1Z"/><path d="M2009.5,737.6L2018.0,720.5L2026.5,737.6Z"/><path d="M2026.1,728.4L2034.6,711.2L2043.1,728.4Z"/><path d="M2044.8,727.6L2053.3,710.5L2061.8,727.6Z"/><path d="M2062.6,727.6L2071.1,710.5L2079.6,727.6Z"/><path d="M2080.5,736.6L2089.0,719.5L2097.5,736.6Z"/><path d="M2098.3,730.7L2106.8,713.6L2115.3,730.7Z"/><path d="M2111.5,735.6L2120.0,718.5L2128.5,735.6Z"/><path d="M2127.8,737.7L2136.3,720.6L2144.8,737.7Z"/><path d="M2050.2,780.4L2058.7,763.2L2067.2,780.4Z"/><path d="M2027.6,757V798" stroke-width="4"/></g>
<path d="M1968.3,752.2H2000V736.6H2031.9V720.4H2079.2V749.3H2031.9V767.7H2015.6V800.2L2013.5,815.7H1968.3V800L1953.5,803L1968.3,789Z" fill="#2b4899"/>
<path d="M1904,832.7H1919.6V863.8H1904Z" fill="#2b4899"/>
<path d="M1919.6,834H1932.3V846.8H1919.6Z" fill="#3f3a9c"/>
<g class="mk"><path d="M1901.7,849.6H1930.3M1916.0,835.3V863.9" stroke-width="5.0"/><path d="M1930.1,837.6L1940.7,827.0L1951.3,837.6L1940.7,848.2Z"/></g>
<g class="mk"><path d="M2976.5,70.6H3011.5M2994.0,53.1V88.1" stroke-width="4.5"/><path d="M2976.9,163.5L2992.9,147.5L3008.9,163.5L2992.9,179.5Z"/><rect x="2977.4" y="240.9" width="31.0" height="31.0"/><circle cx="2992.9" cy="347.5" r="15.0"/><path d="M2976.5,447.1L2989.0,422.5L3001.5,447.1Z"/></g>
<text x="3026.0" y="91.0" font-size="60.8">1950s-1960s</text>
<text x="3026.0" y="184.0" font-size="60.8">1970s-1980s</text>
<text x="3026.0" y="275.8" font-size="60.8">1990s</text>
<text x="3017.5" y="366.0" font-size="60.8">2000s</text>
<text x="3014.5" y="455.3" font-size="60.8">2010s-2020s</text>
</svg></body></html>
